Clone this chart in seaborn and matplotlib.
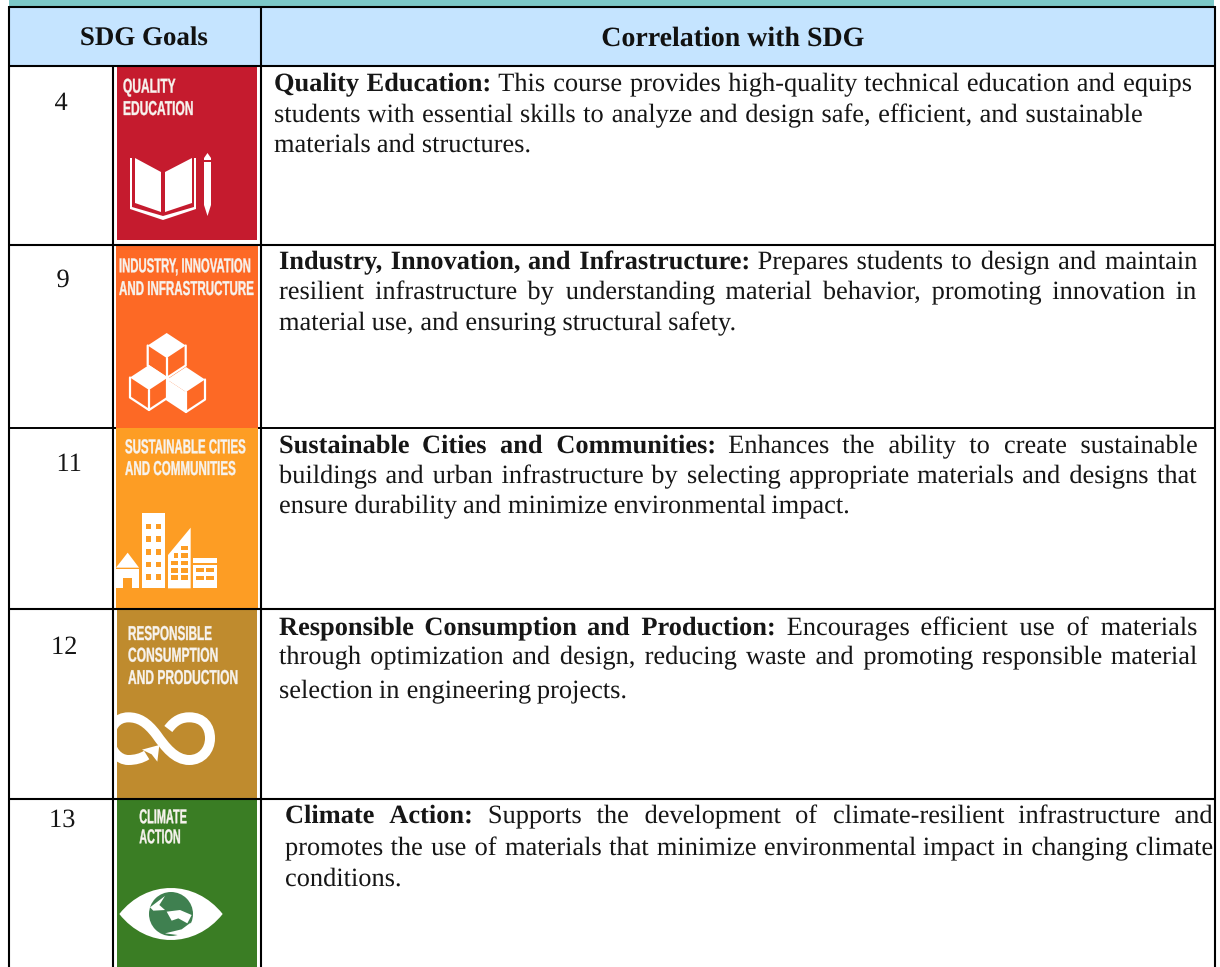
import matplotlib
matplotlib.use('Agg')
import matplotlib.pyplot as plt
import matplotlib.patheffects as pe
from matplotlib.patches import Rectangle, Polygon, Circle, PathPatch
from matplotlib.path import Path
from matplotlib.transforms import Affine2D
import seaborn as sns

header_labels = ['SDG Goals', 'Correlation with SDG']
goal_numbers = ['4', '9', '11', '12', '13']
goal_titles = ['Quality Education:', 'Industry, Innovation, and Infrastructure:',
               'Sustainable Cities and Communities:', 'Responsible Consumption and Production:',
               'Climate Action:']
goal_lines = [
    ['Quality Education: This course provides high-quality technical education and equips',
     'students with essential skills to analyze and design safe, efficient, and sustainable',
     'materials and structures.'],
    ['Industry, Innovation, and Infrastructure: Prepares students to design and maintain',
     'resilient infrastructure by understanding material behavior, promoting innovation in',
     'material use, and ensuring structural safety.'],
    ['Sustainable Cities and Communities: Enhances the ability to create sustainable',
     'buildings and urban infrastructure by selecting appropriate materials and designs that',
     'ensure durability and minimize environmental impact.'],
    ['Responsible Consumption and Production: Encourages efficient use of materials',
     'through optimization and design, reducing waste and promoting responsible material',
     'selection in engineering projects.'],
    ['Climate Action: Supports the development of climate-resilient infrastructure and',
     'promotes the use of materials that minimize environmental impact in changing climate',
     'conditions.'],
]
tile_labels = [
    ['QUALITY', 'EDUCATION'],
    ['INDUSTRY, INNOVATION', 'AND INFRASTRUCTURE'],
    ['SUSTAINABLE CITIES', 'AND COMMUNITIES'],
    ['RESPONSIBLE', 'CONSUMPTION', 'AND PRODUCTION'],
    ['CLIMATE', 'ACTION'],
]

BAND = '#7CC8C8'
HEAD = '#C5E4FF'
RED = '#C51B2E'
ORANGE = '#FD6925'
AMBER = '#FD9D24'
GOLD = '#BF8B2E'
GREEN = '#3A7D24'
TXT = '#161616'
SERIF = ['Liberation Serif', 'DejaVu Serif']
SIZE = 19.0
AS_PATH = [pe.Normal()]

sns.set_theme(style='white')
plt.rcParams['font.family'] = SERIF
plt.rcParams['text.hinting'] = 'no_hinting'
plt.rcParams['text.hinting_factor'] = 1

fig = plt.figure(figsize=(12.2, 9.67), dpi=100)
ax = fig.add_axes([0, 0, 1, 1])
ax.set_xlim(0, 1220)
ax.set_ylim(967, 0)
ax.set_axis_off()
sns.despine(ax=ax, left=True, bottom=True)


class Stretch(pe.AbstractPathEffect):
    # makes the glyphs taller around their own baseline and a bit heavier
    def __init__(self, sy, weight=0.25):
        super().__init__()
        self.sy = sy
        self.weight = weight

    def draw_path(self, renderer, gc, tpath, affine, rgbFace=None):
        y0 = affine.get_matrix()[1, 2]
        a = affine + Affine2D().translate(0, -y0).scale(1, self.sy).translate(0, y0)
        gc0 = renderer.new_gc()
        gc0.copy_properties(gc)
        gc0.set_linewidth(self.weight)
        gc0.set_foreground(rgbFace)
        renderer.draw_path(gc0, tpath, a, rgbFace)
        gc0.restore()


def rect(x0, y0, x1, y1, color, z=1):
    ax.add_patch(Rectangle((x0, y0), x1 - x0, y1 - y0, fc=color, ec='none', lw=0, zorder=z))


def poly(points, z=3):
    ax.add_patch(Polygon(points, closed=True, fc='white', ec='none', lw=0, zorder=z))


def text_width(s, **kw):
    t = ax.text(0, 0, s, **kw)
    w = t.get_window_extent(fig.canvas.get_renderer()).width
    t.remove()
    return w


def tile_text(s, x, base, right, cap=14.5):
    kw = dict(family=['Liberation Sans', 'DejaVu Sans'], fontweight='bold')
    w = text_width(s, fontsize=30, **kw)
    fs = 30 * (right - x) / w
    sy = cap / (fs * 100 / 72 * 0.72)
    ax.text(x, base, s, color='#f7f3ee', va='baseline', ha='left', zorder=4, fontsize=fs,
            path_effects=[Stretch(sy)], **kw)


def body_line(line, left, base, right, n_bold):
    words = line.split(' ')
    widths = []
    for i, w in enumerate(words):
        widths.append(text_width(w, fontsize=SIZE, fontweight='bold' if i < n_bold else 'normal'))
    if right is not None:
        gap = (right - left - sum(widths)) / (len(words) - 1)
    else:
        gap = text_width('a a', fontsize=SIZE) - text_width('aa', fontsize=SIZE) + 1
    x = left
    for i, w in enumerate(words):
        ax.text(x, base, w, fontsize=SIZE, fontweight='bold' if i < n_bold else 'normal',
                color=TXT, va='baseline', ha='left', zorder=5, path_effects=AS_PATH)
        x += widths[i] + gap


def book():
    poly([(135, 158), (161, 172), (161, 212), (135, 203)])
    poly([(165, 172), (192, 158), (192, 203), (165, 212)])
    xs = [(130, 158), (130, 209), (163, 220), (196, 209), (196, 158), (194, 158), (194, 207),
          (163, 216), (132, 207), (132, 158)]
    poly(xs)
    poly([(204, 158), (207.5, 153), (211, 158), (211, 205), (207.5, 216), (204, 205)])
    rect(204, 159.5, 211, 161.5, RED, z=4)


def cube(cx, top, w=19, h=12.5, edge=20, white_left=False):
    t = (cx, top)
    r = (cx + w, top + h)
    c = (cx, top + 2 * h)
    l = (cx - w, top + h)
    br = (cx + w, top + h + edge)
    b = (cx, top + 2 * h + edge)
    bl = (cx - w, top + h + edge)
    poly([t, r, c, l])
    if white_left:
        poly([l, c, b, bl])
    for seg in ([l, bl, b, br, r], [c, b]):
        ax.plot(*zip(*seg), color='white', lw=1.6, zorder=3, solid_capstyle='round')


def city():
    px = lambda x, y: (100 + x / 3, 425 + y / 3)

    def box(x0, y0, x1, y1, color='white'):
        rect(100 + x0 / 3, 425 + y0 / 3, 100 + x1 / 3, 425 + y1 / 3, color, z=3 if color == 'white' else 4)

    box(126, 265, 194, 490)
    for yy in (296, 334, 372, 410, 448):
        box(138, yy, 154, yy + 17, AMBER)
        box(167, yy, 183, yy + 17, AMBER)
    poly([px(204, 390), px(272, 308), px(272, 490), px(204, 490)])
    for yy in (407, 429, 451):
        box(213, yy, 235, yy + 14, AMBER)
        box(242, yy, 265, yy + 14, AMBER)
    box(242, 362, 265, 376, AMBER)
    box(242, 385, 265, 399, AMBER)
    box(222, 385, 235, 399, AMBER)
    box(280, 400, 350, 490)
    box(280, 415, 350, 421, AMBER)
    for yy in (428, 452):
        box(288, yy, 312, yy + 14, AMBER)
        box(318, yy, 342, yy + 14, AMBER)
    poly([px(48, 428), px(83, 383), px(117, 428)])
    box(48, 433, 117, 490)
    box(70, 458, 95, 490, AMBER)


def infinity():
    z = lambda x, y: (100 + x / 3, 605 + y / 3)
    clip = Rectangle((117, 609), 140, 189, transform=ax.transData)
    pts = [z(205, 372), z(225, 345), z(245, 337), z(268, 337), z(310, 337), z(330, 365), z(330, 400),
           z(330, 435), z(305, 465), z(268, 465), z(225, 465), z(195, 425), z(170, 390),
           z(140, 350), z(115, 337), z(85, 337), z(50, 337), z(30, 365), z(30, 400),
           z(30, 435), z(55, 465), z(85, 465), z(105, 465), z(125, 460), z(140, 450)]
    codes = [Path.MOVETO] + [Path.CURVE4] * 24
    p = PathPatch(Path(pts, codes), fc='none', ec='white', lw=7.2, zorder=3, capstyle='butt')
    ax.add_patch(p)
    p.set_clip_path(clip)
    poly([z(126, 434), z(178, 420), z(172, 470), z(155, 448)])


def eye():
    z = lambda x, y: (100 + x / 3, 790 + y / 3)
    verts = [z(58, 372), z(140, 268), z(285, 268), z(368, 372), z(285, 476), z(140, 476), z(58, 372)]
    codes = [Path.MOVETO] + [Path.CURVE4] * 6
    ax.add_patch(PathPatch(Path(verts, codes), fc='white', ec='none', lw=0, zorder=3))
    ax.add_patch(Circle(z(213, 372), 22, fc='#3F8050', ec='none', zorder=4))
    poly([z(150, 352), z(195, 318), z(178, 345), z(195, 360), z(160, 362)], z=5)
    poly([z(200, 365), z(240, 360), z(275, 375), z(262, 400), z(235, 385), z(215, 392)], z=5)
    poly([z(195, 430), z(245, 418), z(272, 398), z(275, 415), z(240, 436)], z=5)


# top band and header
rect(9, 0, 1214, 6, BAND)
rect(9, 7, 1214, 65, HEAD)

# goal colour tiles
rect(117, 66, 257, 240, RED)
rect(116, 245, 258, 428, ORANGE)
rect(116, 428, 258, 609, AMBER)
rect(117, 609, 257, 798, GOLD)
rect(117, 799, 257, 967, GREEN)

book()
cube(166.7, 333)
cube(149, 365)
cube(186, 367, white_left=True)
city()
infinity()
eye()

# table rules
black = dict(color='black', solid_capstyle='butt', zorder=6)
for yy in (6.5, 65.5, 244.5, 609, 798.5):
    ax.plot([9, 1215], [yy, yy], lw=1.5, **black)
ax.plot([9, 116], [428, 428], lw=1.4, **black)
ax.plot([258, 1215], [428, 428], lw=1.4, **black)
for xx, y0 in ((9, 6), (260.7, 6), (113, 65), (1215, 6)):
    ax.plot([xx, xx], [y0, 967], lw=1.5, **black)

# header text
ax.text(144, 45, header_labels[0], fontsize=SIZE + 0.4, fontweight='bold', ha='center', va='baseline',
        color='#111111', zorder=5, path_effects=AS_PATH)
ax.text(733.5, 46, header_labels[1], fontsize=SIZE + 1.1, fontweight='bold', ha='center', va='baseline',
        color='#111111', zorder=5, path_effects=AS_PATH)

# row numbers
num_x = [61, 63, 69, 64, 62]
num_y = [110, 287, 471, 654, 827]
for n, x, y in zip(goal_numbers, num_x, num_y):
    ax.text(x, y, n, fontsize=SIZE, ha='center', va='baseline', color=TXT, zorder=5, path_effects=AS_PATH)

# row text, None keeps the natural word gap
left_x = [274, 279, 279, 279, 285]
right_x = [[1191, 1141, None], [1196, 1196, None], [1196, 1196, None], [1196, 1196, None], [1212, 1212, None]]
bases = [[91, 122, 152], [269, 299, 330], [453, 483, 513], [635, 664, 698], [823, 855, 886]]
for i, lines in enumerate(goal_lines):
    n_bold = len(goal_titles[i].split(' '))
    for j, line in enumerate(lines):
        body_line(line, left_x[i], bases[i][j], right_x[i][j], n_bold if j == 0 else 0)

# tile captions
tile_pos = [
    [(123, 92.7, 176), (123, 115, 194)],
    [(119, 272.3, 251.7), (119, 295, 255)],
    [(125, 453.3, 246.7), (125, 475, 236.7)],
    [(128, 640, 212.7), (128, 661.7, 219), (128, 684, 239)],
    [(139.3, 823.3, 187.3), (139.3, 843.3, 181)],
]
for labels, pos in zip(tile_labels, tile_pos):
    for s, (x, base, right) in zip(labels, pos):
        tile_text(s, x, base, right)

fig.savefig('out.png', dpi=100)
